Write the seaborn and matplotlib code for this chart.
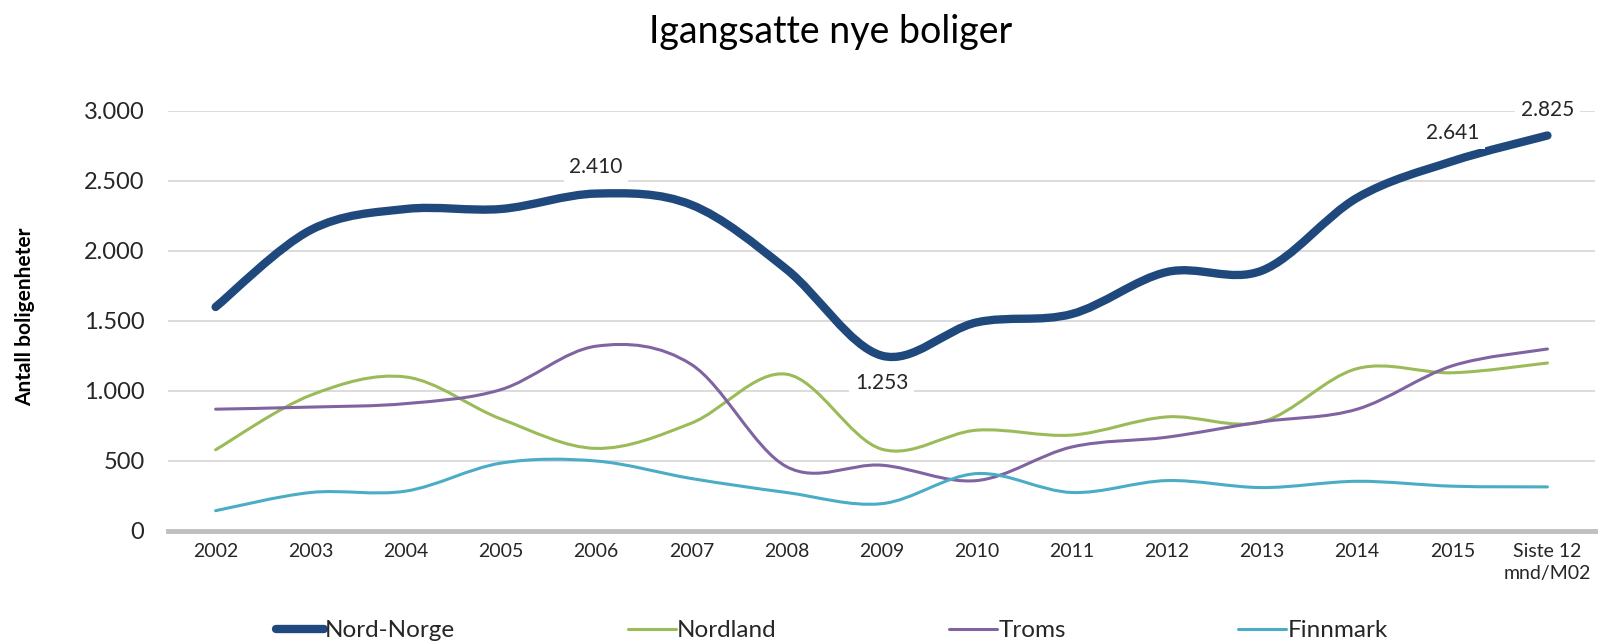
import numpy as np
import pandas as pd
import matplotlib
matplotlib.use("Agg")
import matplotlib.pyplot as plt
import seaborn as sns
from matplotlib.path import Path
from matplotlib.patches import PathPatch

# data
categories = ['2002', '2003', '2004', '2005', '2006', '2007', '2008', '2009',
              '2010', '2011', '2012', '2013', '2014', '2015', 'Siste 12\nmnd/M02']
nord_norge = [1600, 2150, 2300, 2300, 2410, 2330, 1870, 1253,
              1490, 1550, 1850, 1860, 2380, 2641, 2825]
nordland = [580, 970, 1100, 800, 590, 770, 1120, 585,
            720, 685, 815, 780, 1160, 1130, 1200]
troms = [870, 885, 910, 1010, 1320, 1190, 460, 470,
         360, 600, 670, 780, 870, 1180, 1300]
finnmark = [145, 275, 285, 485, 500, 375, 275, 195,
            410, 275, 360, 310, 355, 320, 315]
series_names = ['Nord-Norge', 'Nordland', 'Troms', 'Finnmark']
labelled = [(4, 2410, 19), (7, 1253, -20), (13, 2641, 20), (14, 2825, 18)]

colors = {'Nord-Norge': '#1F497D', 'Nordland': '#9BBB59',
          'Troms': '#8064A2', 'Finnmark': '#4BACC6'}
widths = {'Nord-Norge': 6.0, 'Nordland': 2.2, 'Troms': 2.2, 'Finnmark': 2.2}

df = pd.DataFrame({
    'pos': list(range(len(categories))) * 4,
    'value': nord_norge + nordland + troms + finnmark,
    'serie': [s for s in series_names for _ in categories],
})

sns.set_style('white')
plt.rcParams['font.family'] = ['Lato', 'DejaVu Sans']

fig = plt.figure(figsize=(15.99, 6.43), dpi=100)
ax = fig.add_axes([0.1051, 0.1742, 0.8924, 0.6532])

sns.lineplot(data=df, x='pos', y='value', hue='serie', size='serie',
             hue_order=series_names, size_order=series_names,
             palette=colors, sizes=widths, ax=ax)


def smooth_path(xy):
    # Excel style smoothing: cubic bezier per segment through the points
    pts = np.vstack([xy[0], xy, xy[-1]])
    verts = [tuple(xy[0])]
    codes = [Path.MOVETO]
    for i in range(1, len(pts) - 2):
        p0, p1, p2, p3 = pts[i - 1], pts[i], pts[i + 1], pts[i + 2]
        verts += [tuple(p1 + (p2 - p0) / 6), tuple(p2 - (p3 - p1) / 6), tuple(p2)]
        codes += [Path.CURVE4] * 3
    return Path(verts, codes)


for line in list(ax.lines):
    xy = line.get_xydata()
    if len(xy) < 2:
        continue
    patch = PathPatch(smooth_path(xy), facecolor='none', edgecolor=line.get_color(),
                      linewidth=line.get_linewidth(), capstyle='round',
                      joinstyle='round', zorder=3)
    ax.add_patch(patch)
    line.set_visible(False)

for i, v, off in labelled:
    txt = f"{v:,.0f}".replace(',', '.')
    ax.annotate(txt, (i, v), xytext=(0, off), textcoords='offset points',
                ha='center', va='center', fontsize=15, color='#262626',
                bbox=dict(facecolor='white', edgecolor='none', pad=4), zorder=4)

ax.set_xlim(-0.5, len(categories) - 0.5)
ax.set_ylim(0, 3000)
ax.set_xticks(range(len(categories)))
ax.set_xticklabels(categories, fontsize=14, color='#262626', linespacing=1.35)
ax.set_yticks(range(0, 3001, 500))
ax.set_yticklabels([f"{v:,}".replace(',', '.') for v in range(0, 3001, 500)],
                   fontsize=17, color='#262626')
ax.tick_params(axis='both', length=0)
ax.tick_params(axis='y', pad=17)
ax.tick_params(axis='x', pad=9)
ax.yaxis.grid(True, color='#D9D9D9', linewidth=1.3)
ax.set_axisbelow(True)
for side in ['top', 'right', 'left']:
    ax.spines[side].set_visible(False)
ax.spines['bottom'].set_color('#BFBFBF')
ax.spines['bottom'].set_linewidth(3.5)
ax.set_xlabel('')
ax.set_ylabel('')

fig.text(0.5197, 0.951, 'Igangsatte nye boliger', ha='center', va='center',
         fontsize=27, color='black')
fig.text(0.0156, 0.508, 'Antall boligenheter', rotation=90, ha='center',
         va='center', fontsize=15, fontweight='bold', color='black')

leg = ax.get_legend()
handles = leg.legend_handles
labels = [t.get_text() for t in leg.get_texts()]
leg.remove()
fig.legend(handles, labels, loc='center left', bbox_to_anchor=(0.1726, 0.019),
           ncol=4, frameon=False, fontsize=17.5, handlelength=1.97,
           handletextpad=0.05, columnspacing=7.1, borderpad=0, borderaxespad=0)

fig.savefig('out.png', dpi=100)
